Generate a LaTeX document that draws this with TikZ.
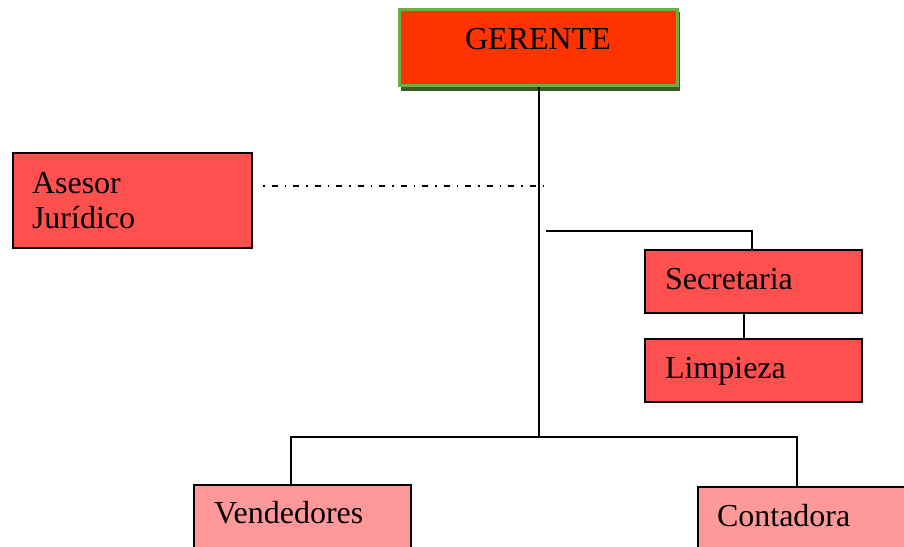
\documentclass[tikz,border=0pt]{standalone}
\usepackage{fontspec}
\setmainfont{Liberation Serif}
\definecolor{gerfill}{HTML}{FF3300}
\definecolor{gerborder}{HTML}{70AD47}
\definecolor{gershadow}{HTML}{3B5A24}
\definecolor{redfill}{HTML}{FF5050}
\definecolor{pinkfill}{HTML}{FF9999}
\tikzset{
  base/.style={draw=black, line width=2pt, rectangle, inner sep=0pt, anchor=north west,
    font=\fontsize{32}{35}\selectfont, align=left},
  redbox/.style={base, fill=redfill},
  pinkbox/.style={base, fill=pinkfill},
  conn/.style={draw=black, line width=1.8pt},
  dashdotline/.style={draw=black, line width=1.6pt, dash pattern=on 1.5pt off 7pt on 6pt off 7pt}
}
\begin{document}
\begin{tikzpicture}[x=1pt,y=-1pt]
\useasboundingbox (0,0) rectangle (904,546);
\clip (0,0) rectangle (904,546);
% GERENTE with shadow
\fill[gershadow] (401,12) rectangle (680,91);
\node[draw=gerborder, line width=3pt, fill=gerfill, inner sep=0pt, anchor=north west,
  minimum width=278pt, text width=278pt, align=center, text height=40.5pt, text depth=35.5pt,
  font=\fontsize{32}{35}\selectfont] (G) at (397.5,7.5) {GERENTE};
% Asesor
\node[redbox, inner xsep=19pt, text width=201pt, text height=40pt, text depth=55pt] (A) at (12,152) {Asesor\\Jurídico};
% Secretaria / Limpieza
\node[redbox, inner xsep=20pt, text width=177pt, text height=39pt, text depth=24pt] (S) at (644,249) {Secretaria};
\node[redbox, inner xsep=20pt, text width=177pt, text height=39pt, text depth=24pt] (L) at (644,338) {Limpieza};
% Vendedores / Contadora
\node[pinkbox, inner xsep=20pt, text width=177pt, text height=38pt, text depth=38pt] (V) at (193,484) {Vendedores};
\node[pinkbox, inner xsep=19pt, text width=200pt, text height=39pt, text depth=38pt] (C) at (697,486) {Contadora};
% connectors
\coordinate (j) at (539,437);
\coordinate (vl) at (291,437);
\coordinate (vr) at (797,437);
\coordinate (s0) at (546,231);
\coordinate (s1) at (752,231);
\coordinate (sl) at (744,300);
\coordinate (d0) at (263,186);
\coordinate (d1) at (546,186);
\draw[conn] (G.south -| j) -- (j);
\draw[conn] (V.north -| vl) -- (vl) -- (vr) -- (C.north -| vr);
\draw[conn] (s0) -- (s1) -- (S.north -| s1);
\draw[conn] (S.south -| sl) -- (L.north -| sl);
\draw[dashdotline] (d0) -- (d1);
\end{tikzpicture}
\end{document}
